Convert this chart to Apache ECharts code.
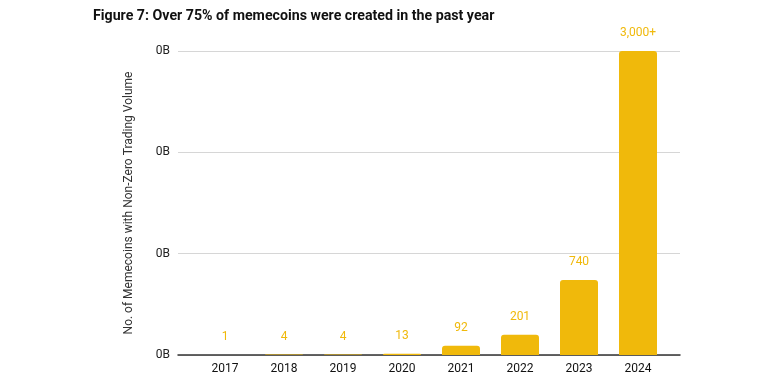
<!DOCTYPE html>
<html><head><meta charset="utf-8">
<script src="https://cdn.jsdelivr.net/npm/echarts@6/dist/echarts.min.js"></script>
<style>html,body{margin:0;padding:0;background:#fff}#c{width:783px;height:388px}</style>
</head><body><div id="c"></div>
<script>
const categories = ['2017','2018','2019','2020','2021','2022','2023','2024'];
const values = [1, 4, 4, 13, 92, 201, 740, 3000];
const valueLabels = ['1','4','4','13','92','201','740','3,000+'];
const yTickLabels = ['0B','0B','0B','0B'];
const yMin = 0, yMax = 3000, yInterval = 1000;

const chart = echarts.init(document.getElementById('c'));
const font = 'Roboto, "Liberation Sans", sans-serif';
chart.setOption({
  animation: false,
  title: {
    text: 'Figure 7: Over 75% of memecoins were created in the past year',
    left: 88, top: 4,
    textStyle: {fontFamily: font, fontWeight: 'bold', fontSize: 14.2, color: '#111'}
  },
  grid: [
    {left: 178, right: 103, top: 51, bottom: 33},
    {left: 195.5, right: 115.5, top: 51, bottom: 33}
  ],
  xAxis: [
    {gridIndex: 0, type: 'category', data: [''], axisLine: {show: true, lineStyle: {color: '#333', width: 1.5}},
     axisTick: {show: false}, axisLabel: {show: false}},
    {gridIndex: 1, type: 'category', data: categories, axisLine: {show: false}, axisTick: {show: false},
     axisLabel: {color: '#111', fontSize: 12, fontFamily: font, margin: 8}}
  ],
  yAxis: [
    {gridIndex: 0, type: 'value', min: yMin, max: yMax, interval: yInterval,
     name: 'No. of Memecoins with Non-Zero Trading Volume', nameLocation: 'middle', nameGap: 43,
     nameTextStyle: {color: '#333', fontSize: 12, fontFamily: font},
     axisLabel: {color: '#222', fontSize: 12, fontFamily: font, margin: 8,
       formatter: (v) => yTickLabels[Math.round((v - yMin) / yInterval)]},
     axisLine: {show: false}, axisTick: {show: false},
     splitLine: {lineStyle: {color: '#d6d6d6', width: 1}}},
    {gridIndex: 1, type: 'value', min: yMin, max: yMax, interval: yInterval, show: false, splitLine: {show: false}}
  ],
  series: [{
    type: 'bar', xAxisIndex: 1, yAxisIndex: 1, data: values, barWidth: 38,
    itemStyle: {color: '#F0B90B', borderRadius: [3, 3, 0, 0]},
    label: {show: true, position: 'top', distance: 12, color: '#F0B90B', fontSize: 12, fontFamily: font,
      formatter: (p) => valueLabels[p.dataIndex]}
  }]
});
</script></body></html>
